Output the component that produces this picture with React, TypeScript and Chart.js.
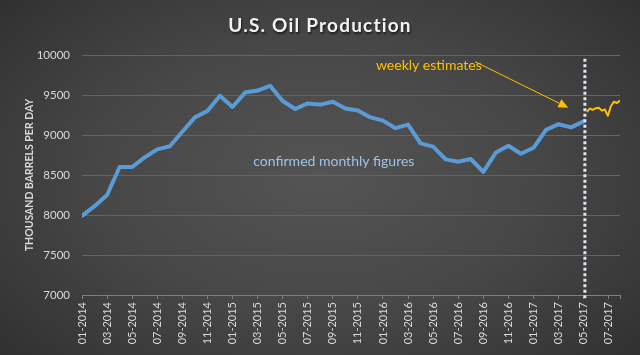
import React, { useEffect, useRef } from "react";
import { Chart, registerables } from "chart.js";

Chart.register(...registerables);

// ---- data ----
const chartTitle = "U.S. Oil Production";
const yAxisTitle = "THOUSAND BARRELS PER DAY";
const tickLabels = [
  "01-2014", "03-2014", "05-2014", "07-2014", "09-2014", "11-2014",
  "01-2015", "03-2015", "05-2015", "07-2015", "09-2015", "11-2015",
  "01-2016", "03-2016", "05-2016", "07-2016", "09-2016", "11-2016",
  "01-2017", "03-2017", "05-2017", "07-2017",
];
// monthly figures, 01-2014 .. 05-2017 (month index 0..40)
const monthlyValues = [
  7990, 8110, 8250, 8600, 8600, 8720, 8820, 8860, 9040, 9220, 9300, 9490,
  9350, 9530, 9555, 9615, 9425, 9325, 9395, 9380, 9415, 9330, 9305, 9220,
  9180, 9085, 9130, 8895, 8855, 8695, 8665, 8700, 8540, 8780, 8865, 8765,
  8840, 9065, 9135, 9095, 9170,
];
// weekly estimates (positions in months since 01-2014)
const weeklyMonths = [40.25, 40.49, 40.73, 40.97, 41.21, 41.45, 41.69, 41.93, 42.17, 42.41, 42.65, 42.9];
const weeklyValues = [9291, 9330, 9315, 9335, 9340, 9305, 9320, 9240, 9360, 9415, 9400, 9430];
const dividerMonth = 40.1;
const dividerRange = [6960, 9960];
const axisMonthMax = 42.9;
const yMin = 7000;
const yMax = 10000;
const yStep = 500;
// annotations (data coordinates)
const weeklyLabel = { text: "weekly estimates", x: 23.44, y: 9875 };
const monthlyLabel = { text: "confirmed monthly figures", x: 13.66, y: 8666 };
const arrowFrom = { x: 31.34, y: 9916 };
const arrowTo = { x: 38.78, y: 9341 };

const BLUE = "#5B9BD5";
const GOLD = "#FFC000";
const TEXT = "#D9D9D9";

const annotationPlugin = {
  id: "annotations",
  afterDraw(chart: any) {
    const { ctx } = chart;
    const xs = chart.scales.x;
    const ys = chart.scales.y;
    ctx.save();
    // title
    ctx.font = "bold 19px Lato";
    (ctx as any).letterSpacing = "1.2px";
    ctx.textAlign = "center";
    ctx.textBaseline = "middle";
    ctx.shadowColor = "rgba(0,0,0,0.6)";
    ctx.shadowOffsetX = 1;
    ctx.shadowOffsetY = 1.5;
    ctx.shadowBlur = 2;
    ctx.fillStyle = "#F2F2F2";
    ctx.fillText(chartTitle, chart.width / 2, 26);
    ctx.shadowColor = "transparent";
    (ctx as any).letterSpacing = "0px";

    // labels
    ctx.textAlign = "left";
    ctx.font = "14px Lato";
    ctx.fillStyle = GOLD;
    ctx.fillText(weeklyLabel.text, xs.getPixelForValue(weeklyLabel.x), ys.getPixelForValue(weeklyLabel.y));
    ctx.fillStyle = "#9DC3E6";
    ctx.fillText(monthlyLabel.text, xs.getPixelForValue(monthlyLabel.x), ys.getPixelForValue(monthlyLabel.y));

    // arrow
    const x1 = xs.getPixelForValue(arrowFrom.x);
    const y1 = ys.getPixelForValue(arrowFrom.y);
    const x2 = xs.getPixelForValue(arrowTo.x);
    const y2 = ys.getPixelForValue(arrowTo.y);
    const ang = Math.atan2(y2 - y1, x2 - x1);
    const headLen = 10;
    const headW = 4.5;
    const bx = x2 - headLen * Math.cos(ang);
    const by = y2 - headLen * Math.sin(ang);
    ctx.strokeStyle = GOLD;
    ctx.lineWidth = 1;
    ctx.beginPath();
    ctx.moveTo(x1, y1);
    ctx.lineTo(bx, by);
    ctx.stroke();
    ctx.fillStyle = GOLD;
    ctx.beginPath();
    ctx.moveTo(x2, y2);
    ctx.lineTo(bx + headW * Math.sin(ang), by - headW * Math.cos(ang));
    ctx.lineTo(bx - headW * Math.sin(ang), by + headW * Math.cos(ang));
    ctx.closePath();
    ctx.fill();
    ctx.restore();
  },
};

export default function App() {
  const ref = useRef<HTMLCanvasElement | null>(null);

  useEffect(() => {
    document.body.style.margin = "0";
    const canvas = ref.current;
    if (!canvas) return;
    const chart = new Chart(canvas, {
      type: "line",
      data: {
        datasets: [
          {
            label: "divider",
            data: dividerRange.map((v) => ({ x: dividerMonth, y: v })),
            borderColor: "#DCE6F2",
            borderWidth: 3,
            borderDash: [3, 2.5],
            pointRadius: 0,
            clip: false,
          } as any,
          {
            label: "monthly",
            data: monthlyValues.map((v, i) => ({ x: i, y: v })),
            borderColor: BLUE,
            borderWidth: 4,
            pointRadius: 0,
            tension: 0,
            borderJoinStyle: "round",
            borderCapStyle: "round",
          },
          {
            label: "weekly",
            data: weeklyValues.map((v, i) => ({ x: weeklyMonths[i], y: v })),
            borderColor: GOLD,
            borderWidth: 2,
            pointRadius: 0,
            tension: 0,
            borderJoinStyle: "round",
          },
        ],
      },
      options: {
        responsive: false,
        animation: false,
        devicePixelRatio: 1,
        layout: { padding: { top: 55, right: 20, bottom: 0, left: 0 } },
        plugins: {
          legend: { display: false },
          title: { display: false },
          tooltip: { enabled: false },
        },
        scales: {
          x: {
            type: "linear",
            min: 0,
            max: axisMonthMax,
            afterBuildTicks: (scale: any) => {
              const t = tickLabels.map((_, i) => ({ value: i * 2 }));
              t.push({ value: axisMonthMax });
              scale.ticks = t;
            },
            afterFit: (scale: any) => {
              scale.height = 60;
            },
            grid: {
              display: true,
              drawOnChartArea: false,
              drawTicks: true,
              tickLength: 4,
              color: "#7F7F7F",
            },
            border: { display: true, color: "#7F7F7F", width: 1 },
            ticks: {
              autoSkip: false,
              minRotation: 90,
              maxRotation: 90,
              padding: 3,
              color: TEXT,
              font: { family: "Lato", size: 11 },
              callback: (value: any) => {
                const i = Number(value) / 2;
                return Number.isInteger(i) && i < tickLabels.length ? tickLabels[i] : "";
              },
            },
          },
          y: {
            type: "linear",
            min: yMin,
            max: yMax,
            afterFit: (scale: any) => {
              scale.width = 82;
            },
            grid: { color: "#646464", lineWidth: 1, drawTicks: false },
            border: { display: false },
            ticks: {
              stepSize: yStep,
              padding: 12,
              color: TEXT,
              font: { family: "Lato", size: 11.5 },
              callback: (value: any) => String(value),
            },
            title: {
              display: true,
              text: yAxisTitle,
              color: TEXT,
              font: { family: "Lato", size: 10.5, weight: "bold" },
              padding: { top: 23, bottom: 0 },
            },
          },
        },
      },
      plugins: [annotationPlugin],
    });
    return () => chart.destroy();
  }, []);

  return (
    <div
      style={{
        width: 640,
        height: 355,
        position: "relative",
        background:
          "radial-gradient(ellipse 75% 85% at 50% 50%, #545454 0%, #474747 45%, #383838 75%, #2A2A2A 100%)",
      }}
    >
      <canvas ref={ref} width={640} height={355} style={{ display: "block" }} />
    </div>
  );
}
